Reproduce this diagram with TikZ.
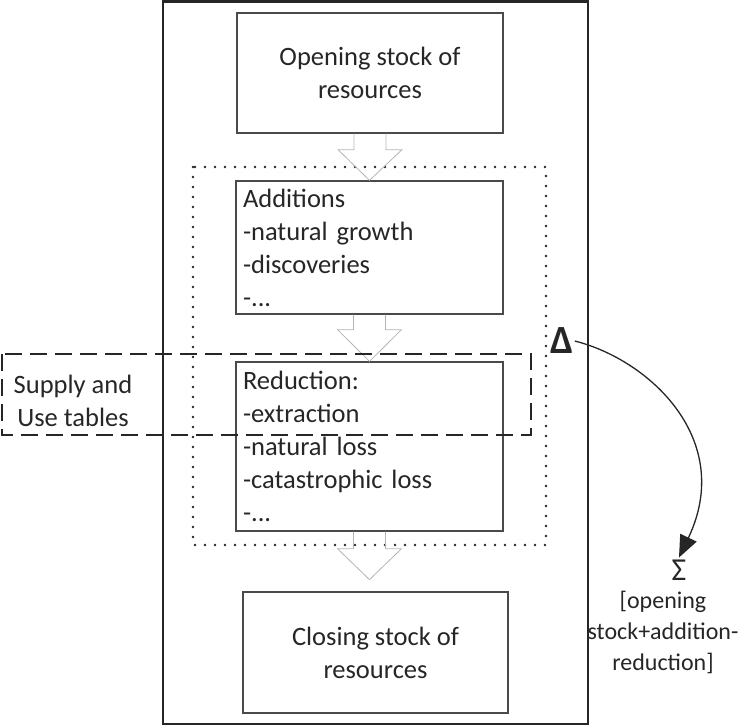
\documentclass[tikz,border=0pt]{standalone}
\usepackage{fontspec}
\setmainfont{Carlito}
\usetikzlibrary{arrows.meta,calc}
\definecolor{ink}{HTML}{262626}
\definecolor{boxline}{HTML}{4A4A4A}
\definecolor{arrowgray}{HTML}{B4B4B4}
\begin{document}
\begin{tikzpicture}[x=1pt,y=-1pt,
  txt/.style={text=ink, font=\fontsize{26.5}{33}\selectfont},
  box/.style={txt, draw=boxline, line width=1.3pt, inner ysep=0pt, inner xsep=7pt},
  blockarr/.style={draw=arrowgray, line width=0.8pt},
  frame/.style={draw=ink, line width=2.5pt},
  dotbox/.style={draw=ink, line width=2.6pt, line cap=round, dash pattern=on 0pt off 10pt},
  dashbox/.style={draw=ink, line width=2.5pt, dash pattern=on 17pt off 8pt},
]
\useasboundingbox (0,0) rectangle (755,726);
% outer frame
\draw[frame] (163,1.5) rectangle (588,724);
% dotted group
\draw[dotbox] (193,167) rectangle (546,545);
% boxes
\node[box, minimum width=266pt, minimum height=120pt, align=center] (open) at (370,73) {Opening stock of\\resources};
\node[box, text width=253pt, minimum height=133pt, align=left] (add) at (369.5,247.5) {Additions\\-natural growth\\-discoveries\\-...};
\node[box, text width=253pt, minimum height=169pt, align=left] (red) at (369.5,446.5) {Reduction:\\-extraction\\-natural loss\\-catastrophic loss\\-...};
\node[box, minimum width=265pt, minimum height=121pt, align=center] (close) at (375.5,652.5) {Closing stock of\\resources};
% block arrows
\draw[blockarr] ($(open.south)+(-16,0)$) -- ++(0,16) -- ++(-16,0) -- (add.north) -- ($(open.south)+(32,16)$) -- ++(-16,0) -- ++(0,-16);
\draw[blockarr] ($(add.south)+(-16,0)$) -- ++(0,15) -- ++(-16,0) -- (red.north) -- ($(add.south)+(32,15)$) -- ++(-16,0) -- ++(0,-15);
\coordinate (tip3) at ($(red.south)+(0,48)$);
\draw[blockarr] ($(red.south)+(-16,0)$) -- ++(0,17) -- ++(-16,0) -- (tip3) -- ($(red.south)+(32,17)$) -- ++(-16,0) -- ++(0,-17);
% dashed group
\draw[dashbox] (2,354) rectangle (531,435);
\node[txt, align=center] (sut) at (73,401) {Supply and\\Use tables};
% delta and sum
\node[text=ink, font=\fontsize{40}{40}\selectfont\bfseries, inner sep=1pt] (delta) at (562,341) {Δ};
\node[text=ink, font=\fontsize{32}{32}\selectfont, inner sep=2pt] (sigma) at (679,570) {Σ};
\node[text=ink, font=\fontsize{24}{31}\selectfont, align=center] (sumtext) at (663,632) {[opening\\stock+addition-\\reduction]};
\draw[ink, line width=1.3pt, -{Triangle[length=22pt,width=18pt]}] (delta.east) .. controls (650,360) and (735,440) .. (sigma.north);
\end{tikzpicture}
\end{document}
